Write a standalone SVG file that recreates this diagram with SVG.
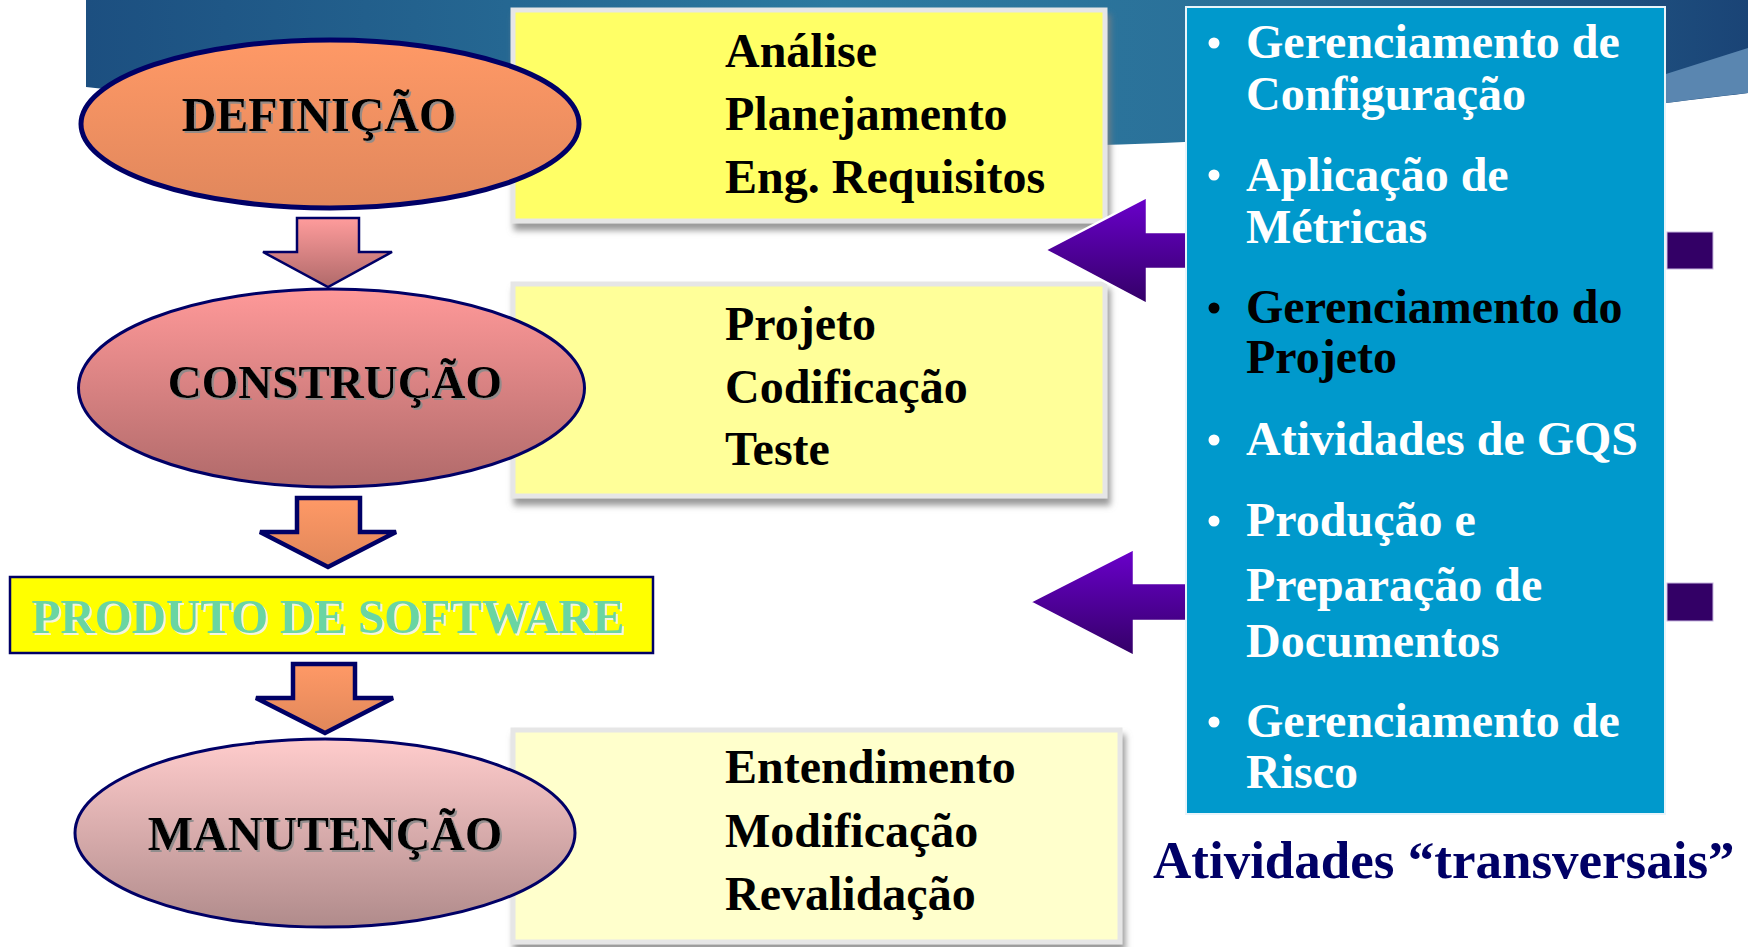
<svg xmlns="http://www.w3.org/2000/svg" width="1748" height="947" viewBox="0 0 1748 947">
<defs>
<linearGradient id="band" x1="0" y1="0" x2="1" y2="0">
<stop offset="0" stop-color="#1c4f80"/>
<stop offset="0.45" stop-color="#2c7aa0"/>
<stop offset="0.72" stop-color="#2a6f98"/>
<stop offset="1" stop-color="#1a4476"/>
</linearGradient>
<linearGradient id="gDef" x1="0" y1="0" x2="0" y2="1">
<stop offset="0" stop-color="#ff9966"/>
<stop offset="1" stop-color="#e0875c"/>
</linearGradient>
<linearGradient id="gCon" x1="0" y1="0" x2="0" y2="1">
<stop offset="0" stop-color="#ff9999"/>
<stop offset="1" stop-color="#b06a6a"/>
</linearGradient>
<linearGradient id="gMan" x1="0" y1="0" x2="0" y2="1">
<stop offset="0" stop-color="#ffcccc"/>
<stop offset="1" stop-color="#b08b8b"/>
</linearGradient>
<linearGradient id="gPink" x1="0" y1="0" x2="0" y2="1">
<stop offset="0" stop-color="#ff9c9c"/>
<stop offset="1" stop-color="#b06a6a"/>
</linearGradient>
<linearGradient id="gOrange" x1="0" y1="0" x2="0" y2="1">
<stop offset="0" stop-color="#ff9966"/>
<stop offset="1" stop-color="#e0875a"/>
</linearGradient>
<linearGradient id="gPurple" x1="0" y1="0" x2="0" y2="1">
<stop offset="0" stop-color="#6a00cc"/>
<stop offset="1" stop-color="#330066"/>
</linearGradient>
<filter id="boxShadow" x="-5%" y="-5%" width="115%" height="120%">
<feDropShadow dx="3" dy="7" stdDeviation="3" flood-color="#808080" flood-opacity="0.8"/>
</filter>
<filter id="txtShadow" x="-5%" y="-10%" width="110%" height="130%">
<feDropShadow dx="2" dy="2" stdDeviation="0.6" flood-color="#8a8a8a" flood-opacity="0.9"/>
</filter>
<filter id="txtShadowLight" x="-5%" y="-10%" width="110%" height="130%">
<feDropShadow dx="2" dy="2" stdDeviation="0.6" flood-color="#f4f4e0" flood-opacity="1"/>
</filter>
</defs>
<style>
.t{font-family:"Liberation Serif","Times New Roman",serif;font-weight:bold;font-size:48px;fill:#000}
.w{fill:#fff}
.k{fill:#000}
.lbl{font-family:"Liberation Serif","Times New Roman",serif;font-weight:bold;fill:#000;filter:url(#txtShadow)}
.box{stroke:#e6e6e6;stroke-width:5;filter:url(#boxShadow)}
.down{stroke:#000066;stroke-linejoin:miter}
.purple{fill:url(#gPurple);stroke:#ffffff;stroke-width:2.5;stroke-linejoin:miter}
.stub{fill:#330066;stroke:#c8b8e0;stroke-width:1}
</style>

<g id="background">
<path d="M86,0 H1748 V93 C1600,112 1320,140 1100,145 C700,140 300,110 86,87 Z" fill="url(#band)"/>
<path d="M1666,74 Q1710,60 1748,48 V93 Q1710,97 1666,103 Z" fill="#5a86b0"/>
</g>

<g id="box-definicao">
<rect class="box" x="513" y="10" width="592" height="211" fill="#ffff66"/>
<text class="t" x="725" y="67">Análise</text>
<text class="t" x="725" y="130">Planejamento</text>
<text class="t" x="725" y="193">Eng. Requisitos</text>
</g>

<g id="box-construcao">
<rect class="box" x="513" y="284" width="592" height="212" fill="#ffff99"/>
<text class="t" x="725" y="340">Projeto</text>
<text class="t" x="725" y="403">Codificação</text>
<text class="t" x="725" y="465">Teste</text>
</g>

<g id="box-manutencao">
<rect class="box" x="513" y="730" width="607" height="212" fill="#ffffcc"/>
<text class="t" x="725" y="783">Entendimento</text>
<text class="t" x="725" y="847">Modificação</text>
<text class="t" x="725" y="910">Revalidação</text>
</g>

<g id="definicao">
<ellipse cx="330" cy="124" rx="249" ry="84" fill="url(#gDef)" stroke="#000066" stroke-width="5"/>
<text class="lbl" x="319" y="131" font-size="48" text-anchor="middle">DEFINIÇÃO</text>
</g>

<g id="construcao">
<ellipse cx="331.5" cy="388" rx="253" ry="99" fill="url(#gCon)" stroke="#000066" stroke-width="3"/>
<text class="lbl" x="335" y="398" font-size="47" text-anchor="middle">CONSTRUÇÃO</text>
</g>

<g id="produto">
<rect x="10" y="577" width="643" height="76" fill="#ffff00" stroke="#000066" stroke-width="2.5"/>
<text x="328" y="633" font-family="Liberation Serif, Times New Roman, serif" font-weight="bold" font-size="47.5" fill="#6ad5a2" text-anchor="middle" filter="url(#txtShadowLight)">PRODUTO DE SOFTWARE</text>
</g>

<g id="manutencao">
<ellipse cx="325" cy="833" rx="250" ry="94" fill="url(#gMan)" stroke="#000066" stroke-width="3"/>
<text class="lbl" x="325" y="850" font-size="48" text-anchor="middle">MANUTENÇÃO</text>
</g>

<g id="connectors">
<polygon class="down" points="297,218 359,218 359,252 392,252 328,287 263,252 297,252" fill="url(#gPink)" stroke-width="2.5"/>
<polygon class="down" points="297,498 360,498 360,532 396,532 328,567 260,532 297,532" fill="url(#gOrange)" stroke-width="4.5"/>
<polygon class="down" points="293,664 355,664 355,698 393,698 325,733 256,698 293,698" fill="url(#gOrange)" stroke-width="4.5"/>
<polygon class="purple" points="1045,250 1147,197 1147,232 1190,232 1190,269 1147,269 1147,304"/>
<rect class="stub" x="1667" y="232" width="46" height="37"/>
<polygon class="purple" points="1030,602 1134,549 1134,583 1190,583 1190,621 1134,621 1134,656"/>
<rect class="stub" x="1667" y="583" width="46" height="38"/>
</g>

<g id="transversais">
<rect x="1186" y="7" width="479" height="807" fill="#0099cc" stroke="#e8f4fa" stroke-width="2"/>
<circle cx="1214" cy="43" r="5.5" fill="#fff"/>
<text class="t w" x="1246" y="58">Gerenciamento de</text>
<text class="t w" x="1246" y="110">Configuração</text>
<circle cx="1214" cy="175" r="5.5" fill="#fff"/>
<text class="t w" x="1246" y="191">Aplicação de</text>
<text class="t w" x="1246" y="243">Métricas</text>
<circle cx="1214" cy="308" r="5.5" fill="#000"/>
<text class="t k" x="1246" y="323">Gerenciamento do</text>
<text class="t k" x="1246" y="373">Projeto</text>
<circle cx="1214" cy="440" r="5.5" fill="#fff"/>
<text class="t w" x="1246" y="455">Atividades de GQS</text>
<circle cx="1214" cy="521" r="5.5" fill="#fff"/>
<text class="t w" x="1246" y="536">Produção e</text>
<text class="t w" x="1246" y="601">Preparação de</text>
<text class="t w" x="1246" y="657">Documentos</text>
<circle cx="1214" cy="722" r="5.5" fill="#fff"/>
<text class="t w" x="1246" y="737">Gerenciamento de</text>
<text class="t w" x="1246" y="788">Risco</text>
</g>

<g id="caption">
<text x="1153" y="878" font-family="Liberation Serif, Times New Roman, serif" font-weight="bold" font-size="53" fill="#000066">Atividades “transversais”</text>
</g>
</svg>
